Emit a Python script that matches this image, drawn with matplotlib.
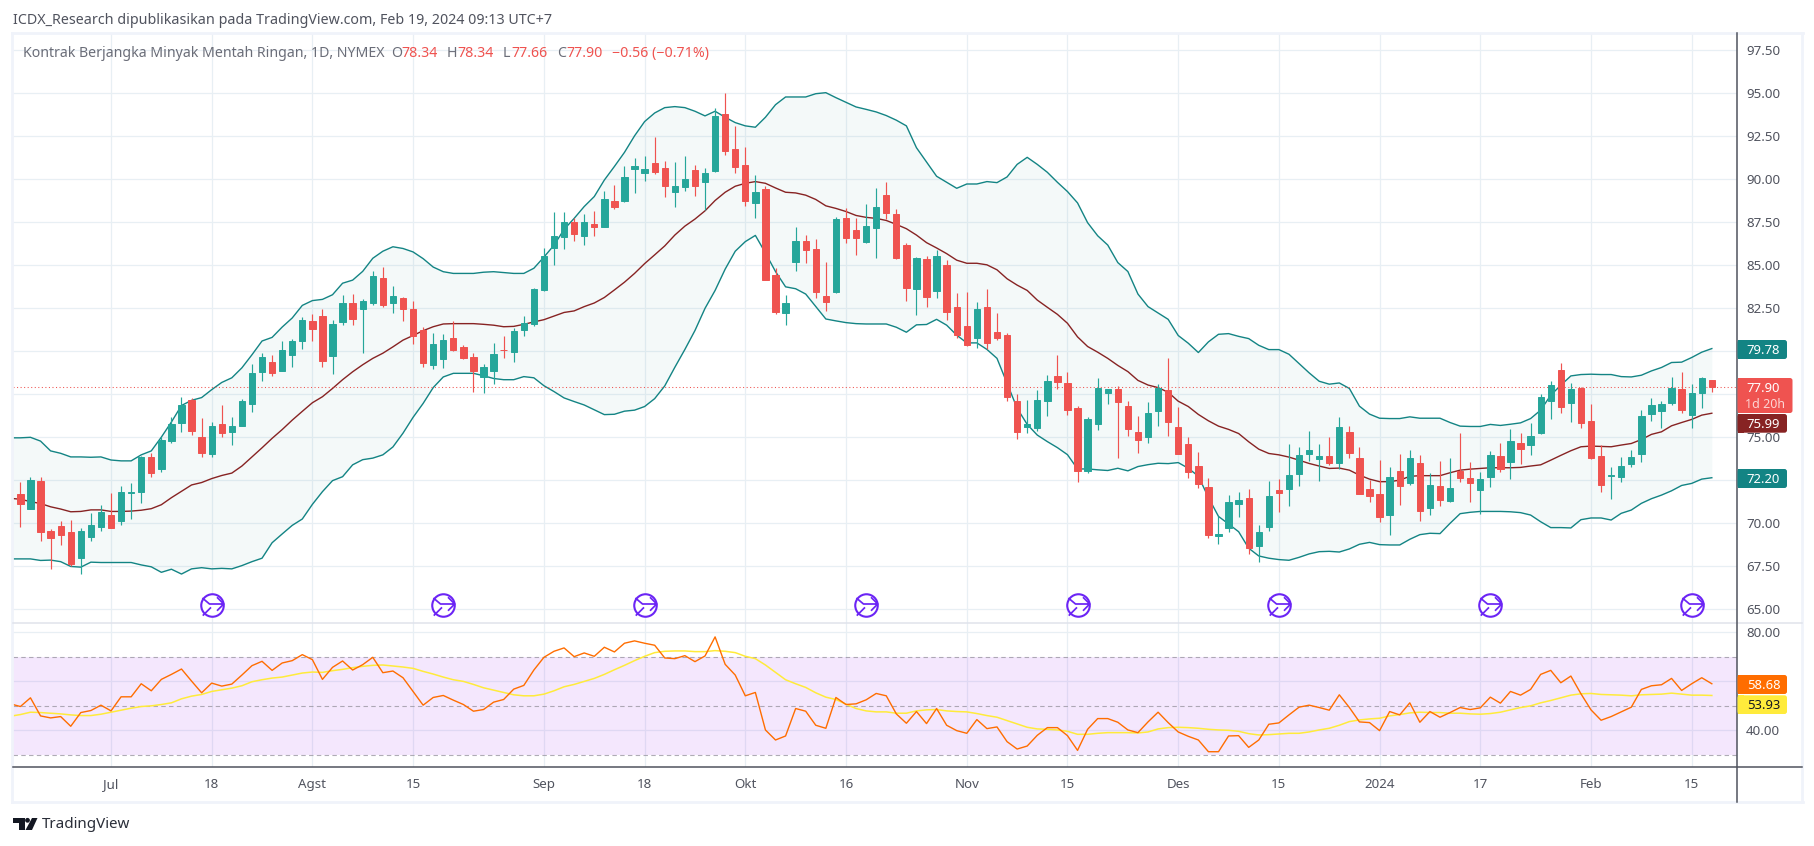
import matplotlib
matplotlib.use("Agg")
import matplotlib.pyplot as plt
from matplotlib.lines import Line2D
from matplotlib.patches import Rectangle, FancyBboxPatch, Polygon
from matplotlib.path import Path
from matplotlib.transforms import IdentityTransform

W, H = 1815, 846
FONT = "Noto Sans"
plt.rcParams["font.family"] = [FONT, "DejaVu Sans"]

# ---------- data ----------
opens = [71.70,70.83,72.46,69.54,69.84,69.49,67.98,69.20,69.77,70.48,70.11,71.75,71.82,73.84,73.15,74.78,75.82,77.15,75.01,74.02,
75.77,75.29,75.66,76.92,78.79,79.36,78.85,79.77,80.60,81.75,82.05,79.73,81.71,82.81,82.49,82.81,84.26,82.81,83.09,82.49,
81.22,79.20,79.54,80.76,80.23,79.66,78.53,78.85,80.10,79.96,81.22,81.59,83.57,86.01,86.65,87.53,86.70,87.39,87.23,88.74,
88.73,90.60,90.37,90.95,90.66,89.25,89.54,90.54,89.83,90.47,93.80,91.76,90.83,88.63,89.44,84.43,82.25,85.20,86.40,85.95,
83.21,83.43,87.73,87.05,86.34,87.17,89.08,87.98,86.18,83.64,85.37,83.50,85.01,82.56,81.46,80.78,82.56,81.11,80.94,77.10,
75.59,75.54,77.10,78.55,78.16,76.71,73.05,75.79,77.58,77.81,76.81,75.29,75.00,76.52,77.75,75.59,74.61,73.32,72.10,69.28,
69.75,71.14,71.47,68.70,69.80,71.93,72.01,72.88,74.04,73.75,73.91,73.50,75.30,73.79,71.99,71.70,70.48,73.04,72.34,73.50,
70.89,72.17,71.29,73.04,72.63,71.93,72.69,73.91,73.56,74.66,74.55,75.24,77.10,78.90,76.98,77.86,75.94,73.91,72.75,72.69,
73.44,74.02,76.35,76.52,76.98,77.80,76.29,77.56,78.34]
highs = [72.39,72.71,72.67,69.66,70.11,70.18,69.72,70.60,71.06,71.75,72.14,72.32,73.91,74.09,75.01,76.16,77.34,77.27,76.12,75.89,
76.88,76.16,77.24,79.25,79.89,79.77,80.60,80.72,81.98,82.19,82.47,81.84,83.29,83.32,83.06,84.67,84.90,83.80,83.18,82.90,
81.41,81.04,80.99,81.75,80.35,79.89,79.25,80.49,80.88,81.38,82.05,83.68,86.01,88.10,88.10,87.73,87.99,88.15,89.34,89.66,
90.76,91.24,91.35,92.45,91.05,90.99,91.35,90.83,90.68,94.13,95.02,93.09,91.86,90.25,89.60,84.87,83.27,87.21,86.76,86.53,
85.18,87.79,88.33,87.73,88.56,89.52,89.83,88.25,86.28,85.51,85.57,85.88,85.30,83.39,83.43,82.85,83.62,82.23,81.05,77.52,
77.16,77.75,78.62,79.78,78.78,76.81,76.17,78.45,77.83,77.97,77.10,76.23,77.04,78.08,79.61,76.75,75.00,74.13,72.64,70.42,
71.62,71.82,71.99,69.90,72.46,72.57,74.60,74.43,75.36,74.60,75.01,76.17,75.65,74.43,72.51,73.67,73.27,74.02,74.26,73.97,
72.92,73.62,73.79,75.24,73.56,72.98,74.20,74.66,75.47,75.24,75.82,77.51,78.26,79.31,78.15,77.91,76.93,74.55,73.27,73.85,
74.26,76.58,77.27,77.10,78.49,78.78,78.09,78.49,78.34]
lows = [69.77,70.83,68.97,67.35,68.74,67.49,67.06,68.97,69.54,69.72,69.88,70.25,71.17,72.71,72.99,74.69,75.31,75.13,73.84,73.84,
75.01,74.55,75.66,76.46,78.26,78.58,78.85,79.08,80.12,80.60,79.08,78.69,81.52,81.52,79.91,82.72,82.60,82.21,81.78,80.44,
79.08,78.97,79.02,80.00,79.54,77.66,77.59,78.12,79.61,79.36,80.88,81.48,83.50,85.02,85.94,86.44,86.17,86.70,87.23,88.28,
88.67,89.21,89.91,90.33,88.96,88.38,89.33,89.02,88.21,90.41,91.41,90.37,88.46,87.77,84.16,82.19,81.54,84.68,85.14,83.12,
82.35,83.37,86.32,85.61,86.28,85.45,87.69,85.39,82.92,82.13,82.56,83.12,81.84,80.80,80.32,80.22,80.11,80.67,77.10,74.92,
75.27,75.34,76.23,77.83,76.31,72.39,72.95,75.44,76.94,73.82,75.07,74.09,74.67,75.65,75.07,74.03,72.64,72.06,69.15,68.80,
69.49,70.38,68.22,67.77,69.57,70.66,71.02,72.18,73.64,72.47,73.38,73.17,73.79,71.72,71.24,70.08,69.32,71.06,72.22,70.13,
70.48,71.00,71.24,72.40,71.24,70.54,72.11,72.98,72.57,73.44,73.97,75.18,76.06,76.40,75.88,75.53,73.73,71.82,71.41,72.40,
73.27,73.56,75.94,75.53,76.87,76.40,75.53,76.69,77.66]
closes = [71.10,72.51,69.49,69.13,69.31,67.63,69.54,69.88,70.64,69.72,71.82,71.82,73.86,72.92,74.83,75.77,76.88,75.36,74.07,75.66,
75.24,75.66,77.11,78.74,79.66,78.74,80.07,80.60,81.82,81.29,79.43,81.59,82.81,81.87,82.93,84.40,82.72,83.20,82.49,80.92,
79.31,80.42,80.65,80.07,79.61,78.85,79.08,79.84,80.05,81.18,81.64,83.62,85.55,86.70,87.53,86.81,87.53,87.25,88.86,88.42,
90.12,90.76,90.60,90.41,89.60,89.60,90.02,89.60,90.37,93.67,91.64,90.70,88.73,89.25,84.16,82.27,82.81,86.40,85.91,83.43,
82.85,87.69,86.61,86.61,87.28,88.38,88.06,85.45,83.70,85.43,83.14,85.53,82.27,80.94,80.38,82.46,80.51,80.78,77.35,75.32,
75.77,77.16,78.26,78.20,76.60,73.05,76.06,77.89,77.81,77.04,75.48,74.84,76.42,77.89,75.88,74.03,72.97,72.28,69.31,69.38,
71.24,71.35,68.58,69.49,71.58,71.78,72.80,73.97,74.26,73.91,73.50,75.59,74.08,71.72,71.60,70.37,72.69,72.17,73.79,70.71,
72.22,71.35,72.05,72.63,72.34,72.57,73.97,73.15,74.78,74.31,75.07,77.33,78.03,76.75,77.80,75.82,73.79,72.22,72.80,73.33,
73.85,76.23,76.87,76.93,77.86,76.58,77.56,78.44,77.90]

# Bollinger bands and RSI carry one value more: the bar just left of the pane edge
bb_upper = [74.97,74.97,75.00,74.78,74.21,74.07,73.86,73.86,73.84,73.86,73.68,73.63,73.63,73.98,74.21,75.01,75.89,76.85,77.15,77.31,
77.77,78.19,78.46,79.04,79.80,80.60,80.81,81.41,81.94,82.67,82.95,83.02,83.29,83.96,84.14,84.65,85.41,85.82,86.08,85.98,
85.78,85.39,84.90,84.63,84.53,84.53,84.53,84.60,84.63,84.58,84.53,84.53,84.83,85.48,86.17,87.09,87.73,88.42,89.00,89.96,
90.75,91.57,92.53,93.36,93.86,94.17,94.23,94.17,93.96,93.69,93.96,93.61,93.30,93.11,93.03,93.61,94.34,94.79,94.79,94.79,
94.98,95.04,94.75,94.48,94.21,94.07,93.92,93.71,93.44,93.11,91.84,91.01,90.18,89.83,89.48,89.73,89.73,89.87,89.81,90.14,
90.87,91.28,90.87,90.41,89.83,89.29,88.63,87.48,86.72,86.18,85.16,84.64,83.33,82.60,82.23,81.86,80.92,80.47,79.93,80.55,
80.99,81.03,80.87,80.74,80.35,80.10,80.10,79.83,79.29,78.75,78.26,78.09,78.16,77.84,76.81,76.35,76.11,76.09,76.09,76.19,
76.11,76.11,76.11,75.86,75.65,75.63,75.63,75.75,75.69,75.76,75.84,76.09,76.58,77.45,78.03,78.57,78.65,78.67,78.65,78.65,
78.53,78.51,78.61,78.86,79.06,79.35,79.37,79.64,79.95,80.16]
bb_basis = [71.45,71.40,71.26,71.15,70.96,70.83,70.67,70.69,70.78,70.78,70.69,70.69,70.71,70.76,70.85,71.08,71.49,71.86,72.23,72.37,
72.60,72.78,72.92,73.33,73.86,74.39,74.94,75.45,76.00,76.51,77.01,77.36,77.84,78.35,78.81,79.22,79.59,79.89,80.26,80.65,
80.92,81.20,81.43,81.59,81.61,81.61,81.61,81.57,81.52,81.43,81.45,81.57,81.71,81.84,82.05,82.26,82.35,82.60,82.81,83.13,
83.57,84.02,84.53,85.10,85.61,86.13,86.76,87.28,87.69,88.17,88.77,89.25,89.60,89.77,89.87,89.77,89.50,89.25,89.21,89.08,
88.83,88.46,88.31,88.13,87.90,87.79,87.73,87.61,87.38,87.13,86.76,86.32,86.01,85.68,85.30,85.12,85.12,85.03,84.74,84.22,
83.85,83.54,82.98,82.56,82.15,81.63,80.84,80.28,79.95,79.59,79.18,78.82,78.31,78.04,77.89,77.62,77.10,76.79,76.33,75.96,
75.65,75.46,75.22,74.74,74.31,74.06,73.98,73.85,73.67,73.48,73.33,73.19,73.21,73.09,72.80,72.57,72.42,72.42,72.51,72.73,
72.77,72.77,72.77,72.94,73.09,73.15,73.19,73.23,73.23,73.23,73.25,73.33,73.40,73.67,73.95,74.22,74.45,74.49,74.47,74.45,
74.55,74.64,74.87,75.17,75.32,75.67,75.86,76.04,76.29,76.40]
bb_lower = [67.93,67.93,67.93,67.84,67.86,67.77,67.49,67.45,67.74,67.72,67.72,67.72,67.72,67.58,67.47,67.15,67.33,67.05,67.35,67.42,
67.35,67.38,67.35,67.54,67.77,67.97,68.87,69.38,69.88,70.25,71.10,71.84,72.48,72.71,73.40,73.70,73.79,73.98,74.44,75.24,
76.16,76.97,77.89,78.51,78.72,78.72,78.72,78.58,78.42,78.35,78.35,78.53,78.46,78.00,77.66,77.29,77.08,76.88,76.60,76.32,
76.34,76.52,76.58,76.79,77.25,77.99,79.07,80.11,81.21,82.50,83.54,84.78,85.82,86.38,86.74,85.72,84.64,83.75,83.64,83.33,
82.60,81.88,81.77,81.67,81.61,81.59,81.59,81.59,81.40,81.11,81.54,81.56,81.86,81.52,80.94,80.49,80.49,80.11,79.59,78.14,
76.69,75.75,75.13,74.75,74.40,73.99,73.16,73.16,73.11,73.07,73.20,73.05,73.30,73.41,73.49,73.47,73.53,73.20,72.74,71.50,
70.40,69.96,69.51,68.55,68.10,67.97,67.89,67.85,68.02,68.22,68.35,68.37,68.33,68.51,68.78,68.89,68.76,68.74,68.74,69.07,
69.34,69.42,69.40,70.00,70.56,70.64,70.69,70.69,70.69,70.67,70.62,70.48,70.09,69.75,69.75,69.73,70.21,70.31,70.31,70.19,
70.58,70.77,71.16,71.43,71.64,71.89,72.20,72.32,72.57,72.65]
rsi = [50.79,49.70,53.25,45.87,45.05,45.60,41.64,47.24,48.06,50.25,47.92,53.66,53.66,58.99,56.12,60.77,62.81,65.00,60.08,55.30,
59.26,58.03,58.85,62.54,66.37,68.14,64.45,67.46,68.42,70.87,68.83,60.77,65.68,68.28,64.59,66.78,69.78,63.50,64.18,61.45,
55.85,50.25,53.39,54.21,52.30,50.52,47.79,48.47,51.48,52.57,56.80,58.31,64.59,69.78,72.24,73.61,70.05,71.56,70.19,73.88,
71.97,75.52,76.48,75.52,74.70,69.51,69.23,70.46,68.01,70.33,78.11,66.91,62.54,54.07,55.44,40.14,36.04,37.68,48.88,47.79,
42.05,40.82,53.39,50.52,50.79,52.43,55.03,54.07,46.69,42.87,47.65,42.73,48.88,42.05,39.86,38.77,44.37,40.68,41.37,35.36,
32.35,33.58,37.95,41.09,41.09,37.81,31.80,40.41,44.78,44.78,43.28,40.14,39.04,43.42,47.38,43.14,39.32,37.54,36.04,31.26,
31.26,37.68,37.81,33.03,36.04,42.46,43.01,46.28,49.43,50.25,49.29,48.20,54.48,49.29,43.42,43.14,39.86,47.65,46.28,51.20,
43.28,47.65,45.33,47.24,49.29,48.47,49.15,53.52,51.07,55.85,54.34,56.67,62.81,64.45,59.40,62.13,54.89,48.33,44.10,45.60,
47.51,49.43,56.67,58.17,58.58,61.17,56.26,58.99,61.45,58.99]
rsi_ma = [45.74,46.42,47.38,47.24,46.97,46.69,46.28,46.01,46.01,46.56,47.38,48.20,49.02,49.70,49.97,50.52,51.20,52.84,53.93,54.62,
55.85,56.53,57.21,58.17,59.81,60.63,61.31,61.72,62.54,63.36,63.77,63.63,64.32,64.86,65.55,66.09,66.50,66.64,66.23,65.82,
65.27,64.04,62.95,61.72,60.63,59.95,58.72,57.35,56.39,55.44,54.48,54.07,54.07,54.75,56.12,57.76,58.72,59.95,61.17,62.81,
64.70,66.50,68.42,70.19,71.69,72.24,72.38,72.38,72.10,72.10,72.51,72.24,71.69,70.19,69.23,66.64,63.63,60.63,58.99,57.49,
55.30,53.52,52.57,50.66,48.88,47.92,47.51,47.51,46.97,46.97,47.92,48.33,48.47,47.92,47.65,47.51,46.83,46.01,45.33,43.96,
42.60,41.23,40.55,40.41,40.14,39.59,38.36,38.36,38.77,39.04,39.04,39.04,38.91,39.32,40.55,41.09,41.23,41.09,40.82,40.41,
40.14,40.00,39.59,38.63,38.09,38.22,38.50,38.77,38.77,39.32,40.14,40.82,42.05,43.55,44.23,44.64,44.92,45.87,46.42,47.10,
47.38,47.24,47.24,46.97,46.97,46.69,46.56,46.83,47.38,48.33,49.29,49.97,51.20,52.16,53.25,54.34,54.89,55.03,54.62,54.48,
54.34,54.07,54.48,54.62,54.75,55.16,54.75,54.34,54.34,54.21]

price_ticks = [65.0,67.5,70.0,72.5,75.0,77.5,80.0,82.5,85.0,87.5,90.0,92.5,95.0,97.5]
price_hidden = [72.5,77.5,80.0]   # covered by the value tags in the reference
rsi_ticks = [40,60,80]
rsi_hidden = [60]
rsi_levels = [30,50,70]
date_bars = [9,19,29,39,52,62,72,82,94,104,115,125,135,145,156,166]
date_labels = ["Jul","18","Agst","15","Sep","18","Okt","16","Nov","15","Des","15","2024","17","Feb","15"]
icon_bars = [19,42,62,84,105,125,146,166]
icon_price = 65.25
last_price = 77.90

UP, DOWN = "#26a69a", "#ef5350"
BAND, BASIS = "#138484", "#872323"
GRID = "#e8eff4"
AXC = "#50535e"

def fx(x): return x / W
def fy(y): return 1 - y / H

fig = plt.figure(figsize=(W/100, H/100), dpi=100, facecolor="white")
L, R, T, S, B = 13, 1737, 33, 622.7, 767.3
ax = fig.add_axes([fx(L), fy(S), (R-L)/W, (S-T)/H])
ar = fig.add_axes([fx(L), fy(B), (R-L)/W, (B-S)/H], sharex=ax)

n = len(closes)
bars = list(range(n))
band_x = list(range(-1, n))

for a in (ax, ar):
    a.set_facecolor("white")
    for s in a.spines.values():
        s.set_visible(False)
    a.tick_params(length=0)
    a.set_axisbelow(True)
    a.grid(True, color=GRID, lw=0.9)

ax.set_xlim(-0.735, 170.5)
ax.set_ylim(64.22, 98.51)
ar.set_ylim(24.9, 83.9)

ax.set_yticks(price_ticks)
ax.set_yticklabels(["" if v in price_hidden else f"{v:.2f}" for v in price_ticks], fontsize=9.6, color=AXC)
ax.yaxis.tick_right()
ax.tick_params(axis="y", pad=6.5)
ax.tick_params(axis="x", labelbottom=False)
ar.set_yticks(rsi_ticks)
ar.set_yticklabels(["" if v in rsi_hidden else f"{v:.2f}" for v in rsi_ticks], fontsize=9.6, color=AXC)
ar.yaxis.tick_right()
ar.tick_params(axis="y", pad=6.5)
ar.set_xticks(date_bars)
ar.set_xticklabels(date_labels, fontsize=9.6, color=AXC)
ar.tick_params(axis="x", pad=7.5)
for lab in ar.get_xticklabels():
    if lab.get_text() == "2024":
        lab.set_fontweight("bold")

# Bollinger bands
ax.fill_between(band_x, bb_lower, bb_upper, color=BAND, alpha=0.045, lw=0, zorder=1)
ax.plot(band_x, bb_upper, color=BAND, lw=1.0, zorder=2)
ax.plot(band_x, bb_lower, color=BAND, lw=1.0, zorder=2)
ax.plot(band_x, bb_basis, color=BASIS, lw=1.0, zorder=2)
ax.axhline(last_price, color=DOWN, lw=0.75, ls=(0, (1, 2.4)), zorder=2)

# candles
colors = [UP if c >= o else DOWN for o, c in zip(opens, closes)]
ax.vlines(bars, lows, highs, colors=colors, lw=0.85, zorder=3)
ax.bar(bars, [abs(c-o) for o, c in zip(opens, closes)], bottom=[min(o, c) for o, c in zip(opens, closes)],
       width=0.63, color=colors, edgecolor=colors, lw=0.7, zorder=4)

# event icons
ICON = "#6b24f5"
ax.plot(icon_bars, [icon_price]*len(icon_bars), ls="none", marker="o", ms=16.2, mfc="white",
        mec=ICON, mew=1.5, zorder=5)
arrow = Path([(-0.27,0.20),(-0.08,0.04),(0.30,0.04),(0.12,0.22),(0.30,0.04),(0.12,-0.14),(-0.04,-0.05),(-0.26,-0.27)],
             [Path.MOVETO,Path.LINETO,Path.LINETO,Path.MOVETO,Path.LINETO,Path.LINETO,Path.MOVETO,Path.LINETO])
ax.plot(icon_bars, [icon_price]*len(icon_bars), ls="none", marker=arrow, ms=16.2, mfc="none",
        mec=ICON, mew=1.25, zorder=6)

# RSI pane
ar.axhspan(min(rsi_levels), max(rsi_levels), color="#9c26f0", alpha=0.11, lw=0, zorder=1)
for lv in rsi_levels:
    ar.axhline(lv, color="#9b98a3", lw=0.8, ls=(0, (4, 3)), alpha=0.8, zorder=2)
ar.plot(band_x, rsi_ma, color="#ffeb3b", lw=1.1, zorder=3)
ar.plot(band_x, rsi, color="#ff6d00", lw=1.0, zorder=4)

# frame and separators in pixel layout
def hline(x0, x1, y, c, lw):
    fig.add_artist(Line2D([fx(x0), fx(x1)], [fy(y), fy(y)], color=c, lw=lw, zorder=3))
def vline(x, y0, y1, c, lw):
    fig.add_artist(Line2D([fx(x), fx(x)], [fy(y0), fy(y1)], color=c, lw=lw, zorder=3))

FR = "#f0f3fa"
hline(12, 1803, 33, FR, 2.0)
hline(12, 1803, 802, FR, 2.0)
vline(12.5, 33, 802, FR, 2.0)
vline(1802.5, 33, 802, FR, 2.0)
hline(L, 1802, S, "#e0e3eb", 1.1)
hline(L, 1802, B, AXC, 1.1)
vline(R, T, 802, AXC, 1.1)

PX = IdentityTransform()
def tag(y0, y1, c, x1=1787):
    x0 = R + 0.5
    fig.add_artist(FancyBboxPatch((x0, H-y1), x1-x0, y1-y0, boxstyle="round,pad=0,rounding_size=2.5",
                   fc=c, ec="none", transform=PX, zorder=5))
    fig.add_artist(Rectangle((x0, H-y1), 6, y1-y0, fc=c, ec="none", transform=PX, zorder=5))
def ttext(x, y, s, c="white", **k):
    fig.text(fx(x), fy(y), s, color=c, fontsize=k.pop("fontsize", 9.4), ha="center",
             va="center", zorder=6, **k)

tag(340, 359, BAND);            ttext(1763.5, 350, "79.78")
tag(378, 413, DOWN, 1792.5);    ttext(1763.5, 388, "77.90"); ttext(1765, 404, "1d 20h", c="#fcd5d4", fontsize=9.0)
tag(414, 432.7, BASIS);         ttext(1763.5, 424, "75.99")
tag(469, 488, BAND);            ttext(1763.5, 479, "72.20")
tag(675, 694, "#ff6d00");       ttext(1763.5, 685, "58.68")
tag(695.3, 714, "#ffeb3b");     ttext(1763.5, 705, "53.93", c="#131722")

# header texts
fig.text(fx(13), fy(20), "ICDX_Research dipublikasikan pada TradingView.com, Feb 19, 2024 09:13 UTC+7",
         fontsize=10.25, color="#50535e", va="center", ha="left")
LEG = "#6a6d78"
def leg(x, s, c):
    fig.text(fx(x), fy(53.5), s, fontsize=10.2, color=c, va="center", ha="left", zorder=6)
leg(23.3, "Kontrak Berjangka Minyak Mentah Ringan, 1D, NYMEX", LEG)
for x0, k, x1, v in [(391, "O", 401, "78.34"), (447, "H", 457, "78.34"), (503, "L", 511, "77.66"), (557, "C", 566, "77.90")]:
    leg(x0, k, LEG)
    leg(x1, v, DOWN)
leg(612, "\u22120.56 (\u22120.71%)", DOWN)

# TradingView mark
for pts in ([(13,818),(25,818),(25,830),(19,830),(19,823),(13,823)],
            [(32,818),(37.5,818),(32,830),(25.5,830)]):
    fig.add_artist(Polygon([(fx(a), fy(b)) for a, b in pts], closed=True, fc="#131722", ec="none",
                           transform=fig.transFigure, zorder=4))
fig.add_artist(plt.Circle((27.5, H-820.3), 2.4, fc="#131722", ec="none", transform=PX, zorder=4))
fig.text(fx(42), fy(824), "TradingView", fontsize=10.9, color="#2a2e39", va="center", ha="left")

fig.savefig("out.png", dpi=100, facecolor="white")
